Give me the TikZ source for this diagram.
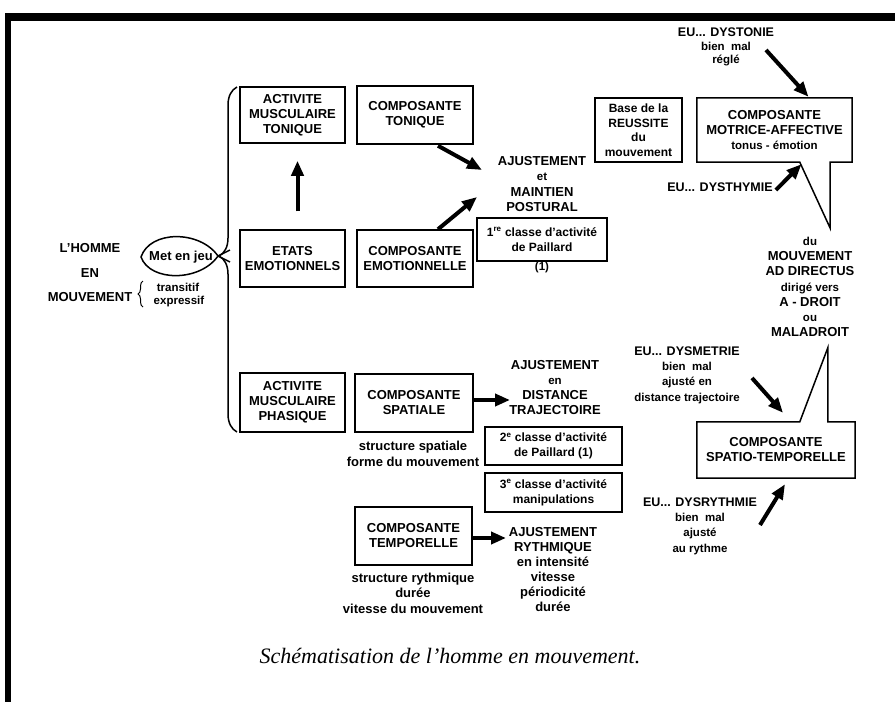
\documentclass[tikz,border=0pt]{standalone}
\usepackage{fontspec}
\setmainfont{Liberation Sans}
\newfontfamily\capfont{Liberation Serif}
\usetikzlibrary{arrows.meta,decorations.pathreplacing}
\newcommand{\smf}{\fontsize{11.5}{13}\selectfont}
\begin{document}
\begin{tikzpicture}[x=1pt,y=-1pt,
  font=\bfseries\fontsize{13}{15}\selectfont,
  box/.style={draw, line width=1.5pt, inner sep=0pt, align=center},
  lbl/.style={align=center, inner sep=0pt},
  boxline/.style={line width=1.5pt, line join=miter},
  bigarrow/.style={line width=4pt, -{Triangle[length=15pt,width=12pt]}}]
\useasboundingbox (0,0) rectangle (895,702);
% frame
\fill (5,13) rectangle (895,21);
\fill (5,13) rectangle (11,702);

% left labels
\node[lbl] (homme) at (90,248) {L’HOMME};
\node[lbl] (en) at (90,273) {EN};
\node[lbl] (mvt) at (90,297) {MOUVEMENT};
\node[lbl,font=\bfseries\smf] (transitif) at (178,287) {transitif};
\node[lbl,font=\bfseries\smf] (expressif) at (179,302) {expressif};
\draw[decorate,decoration={brace,amplitude=5pt},line width=1pt] (143,307) -- (143,281);

% met en jeu
\node[lbl] (metjeu) at (181,257) {Met en jeu};
\draw[line width=1.5pt] (230,250) -- (218,256) .. controls (200,282) and (150,282) .. (141,257)
  .. controls (150,230) and (200,230) .. (218,256) -- (230,262);

% big brace
\draw[decorate,decoration={brace,amplitude=18pt,aspect=0.51},line width=1.5pt] (237,432) -- (237,87);

% left column boxes
\node[box,minimum width=105pt,minimum height=56pt] (amt) at (292.5,115) {ACTIVITE\\MUSCULAIRE\\TONIQUE};
\node[box,minimum width=105pt,minimum height=57pt] (etats) at (292.5,258.5) {ETATS\\EMOTIONNELS};
\node[box,minimum width=105pt,minimum height=59pt] (amp) at (292.5,402.5) {ACTIVITE\\MUSCULAIRE\\PHASIQUE};

% composantes
\node[box,minimum width=116pt,minimum height=58pt] (ctonique) at (415,115) {COMPOSANTE\\TONIQUE};
\node[box,minimum width=116pt,minimum height=57pt] (cemo) at (415,258.5) {COMPOSANTE\\EMOTIONNELLE};
\node[box,minimum width=118pt,minimum height=58pt] (cspat) at (414,403) {COMPOSANTE\\SPATIALE};
\node[box,minimum width=117pt,minimum height=58pt] (ctemp) at (413.5,536) {COMPOSANTE\\TEMPORELLE};

% ajustements
\node[lbl,font=\bfseries\fontsize{13}{15.5}\selectfont] (ajust1) at (542,184) {AJUSTEMENT\\{\smf et}\\MAINTIEN\\POSTURAL};
\node[box,font=\bfseries\fontsize{12}{15}\selectfont,minimum width=130pt,minimum height=43pt] (paill1) at (542,239.5) {1\textsuperscript{re} classe d’activité\\de Paillard};
\node[lbl,font=\bfseries\smf] (note1) at (542,268) {(1)};
\node[lbl] (ajust2) at (555,388) {AJUSTEMENT\\{\smf en}\\DISTANCE\\TRAJECTOIRE};
\node[box,font=\bfseries\fontsize{12}{15}\selectfont,minimum width=137pt,minimum height=38pt] (paill2) at (553.5,446) {2\textsuperscript{e} classe d’activité\\de Paillard (1)};
\node[box,font=\bfseries\fontsize{12}{15}\selectfont,minimum width=137pt,minimum height=39pt] (paill3) at (553.5,492.5) {3\textsuperscript{e} classe d’activité\\manipulations};
\node[lbl] (ajust3) at (553,570) {AJUSTEMENT\\RYTHMIQUE\\en intensité\\vitesse\\périodicité\\durée};
\node[lbl,font=\bfseries\fontsize{13}{16}\selectfont] (sspat) at (413,454) {structure spatiale\\forme du mouvement};
\node[lbl,font=\bfseries\fontsize{13}{15.5}\selectfont] (srythm) at (413,593) {structure rythmique\\durée\\vitesse du mouvement};

% base de la reussite
\node[box,font=\bfseries\fontsize{12}{14.5}\selectfont,minimum width=87pt,minimum height=64pt] (base) at (638.5,130) {Base de la\\REUSSITE\\du\\mouvement};

% composante motrice-affective (bubble)
\node[lbl,minimum width=155pt,minimum height=64pt] (cma) at (774.5,130) {COMPOSANTE\\MOTRICE-AFFECTIVE\\{\smf tonus - émotion}};
\draw[boxline] (cma.north west) -- (cma.north east) -- (cma.south east) -- ([shift={(-22,0)}]cma.south east)
  -- ([shift={(-22,66)}]cma.south east) -- ([shift={(103,0)}]cma.south west) -- (cma.south west) -- cycle;

% composante spatio-temporelle (bubble)
\node[lbl,minimum width=158pt,minimum height=56pt] (cst) at (776,450) {COMPOSANTE\\SPATIO-TEMPORELLE};
\draw[boxline] (cst.south west) -- (cst.north west) -- ([shift={(103,0)}]cst.north west)
  -- ([shift={(131,-74)}]cst.north west) -- ([shift={(131,0)}]cst.north west) -- (cst.north east)
  -- (cst.south east) -- cycle;

% right texts
\node[lbl,font=\bfseries\fontsize{13}{15.2}\selectfont] (adirectus) at (810,287) {{\smf du}\\MOUVEMENT\\AD DIRECTUS\\{\smf dirigé vers}\\A - DROIT\\{\smf ou}\\MALADROIT};
\node[lbl,font=\bfseries\fontsize{12.5}{13.5}\selectfont] (dystonie) at (726,47) {EU... DYSTONIE\\{\smf bien~~mal}\\{\smf réglé}};
\node[lbl,font=\bfseries\fontsize{12.5}{14}\selectfont] (dysthymie) at (720,187) {EU... DYSTHYMIE};
\node[lbl,font=\bfseries\fontsize{12.5}{15.3}\selectfont] (dysmetrie) at (687,375) {EU... DYSMETRIE\\{\smf bien~~mal}\\{\smf ajusté en}\\{\smf distance trajectoire}};
\node[lbl,font=\bfseries\fontsize{12.5}{15.3}\selectfont] (dysrythmie) at (700,526) {EU... DYSRYTHMIE\\{\smf bien~~mal}\\{\smf ajusté}\\{\smf au rythme}};

% arrows
\draw[bigarrow] ([shift={(5,-18)}]etats.north) -- ([shift={(5,17)}]amt.south);
\draw[bigarrow] ([shift={(23,1)}]ctonique.south) -- ([shift={(-60,-14)}]ajust1.center);
\draw[bigarrow] ([shift={(23,0)}]cemo.north) -- ([shift={(-65,13)}]ajust1.center);
\draw[bigarrow] ([shift={(0,-3)}]cspat.east) -- ([shift={(-45,12)}]ajust2.center);
\draw[bigarrow] ([shift={(0,2)}]ctemp.east) -- ([shift={(-47,-32)}]ajust3.center);
\draw[bigarrow] ([shift={(40,3)}]dystonie.center) -- ([shift={(34,-1)}]cma.north);
\draw[bigarrow] ([shift={(3,3)}]dysthymie.east) -- ([shift={(27,2)}]cma.south);
\draw[bigarrow] ([shift={(65,3)}]dysmetrie.center) -- ([shift={(7,-9)}]cst.north);
\draw[bigarrow] ([shift={(60,-1)}]dysrythmie.center) -- ([shift={(9,6)}]cst.south);

% caption
\node[lbl,font=\capfont\mdseries\itshape\fontsize{22}{26}\selectfont] (caption) at (450,656) {Schématisation de l’homme en mouvement.};
\end{tikzpicture}
\end{document}
